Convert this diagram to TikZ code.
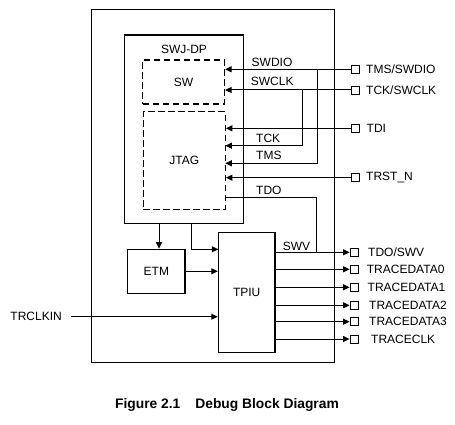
\documentclass[tikz,border=0pt]{standalone}
\usepackage{fontspec}
\setmainfont{Liberation Sans}
\usetikzlibrary{arrows.meta}
\begin{document}
\begin{tikzpicture}[x=1pt,y=-1pt,
  every node/.style={font=\fontsize{12}{14}\selectfont, inner sep=0pt},
  dblk/.style={draw, line width=1.2pt, dash pattern=on 6.5pt off 3.5pt},
  pin/.style={draw, line width=0.9pt, minimum width=8pt, minimum height=8pt},
  lbl/.style={anchor=west},
  wire/.style={line width=1pt},
  arr/.style={wire, -{Triangle[length=6.5pt,width=6pt]}}]
\useasboundingbox (0,0) rectangle (455,425);
% blocks
\node[draw, line width=1pt, minimum width=243pt, minimum height=353.5pt] (outer) at (212.5,185.8) {};
\node[draw, line width=1.4pt, minimum width=119pt, minimum height=188.3pt] (swj) at (183.8,129.2) {};
\node (swjlbl) at (184,49) {SWJ-DP};
\node[dblk, minimum width=81.8pt, minimum height=44pt] (sw) at (183.6,82) {SW};
\node[dblk, minimum width=82pt, minimum height=97.6pt] (jtag) at (184.3,160.5) {JTAG};
\node[draw, line width=1.2pt, minimum width=57.3pt, minimum height=44pt] (etm) at (156.4,271.3) {ETM};
\node[draw, line width=1.2pt, minimum width=56.7pt, minimum height=120pt] (tpiu) at (246.7,292.3) {TPIU};
% input pins
\node[pin] (p1) at (355.5,69.3) {};
\node[pin] (p2) at (355.5,90) {};
\node[pin] (p3) at (355.5,128.3) {};
\node[pin] (p4) at (355.5,177.7) {};
\node[lbl] (l1) at (366,69.3) {TMS/SWDIO};
\node[lbl] (l2) at (366,90) {TCK/SWCLK};
\node[lbl] (l3) at (366.5,128.3) {TDI};
\node[lbl] (l4) at (366,177.7) {TRST\_N};
% output pins
\node[pin] (o1) at (354,252.3) {};
\node[pin] (o2) at (354,269.3) {};
\node[pin] (o3) at (354,287.3) {};
\node[pin] (o4) at (354,305.3) {};
\node[pin] (o5) at (354,321.7) {};
\node[pin] (o6) at (354,339) {};
\node[lbl] (m1) at (368,252.3) {TDO/SWV};
\node[lbl] (m2) at (366.7,269.3) {TRACEDATA0};
\node[lbl] (m3) at (367.5,287.3) {TRACEDATA1};
\node[lbl] (m4) at (369,305.3) {TRACEDATA2};
\node[lbl] (m5) at (369,321.7) {TRACEDATA3};
\node[lbl] (m6) at (371,339) {TRACECLK};
\node[anchor=east] (trclk) at (62,316.7) {TRCLKIN};
% signal labels
\node[lbl] at (251.5,62) {SWDIO};
\node[lbl] at (250.7,81.3) {SWCLK};
\node[lbl] at (256,138.3) {TCK};
\node[lbl] at (256,155.3) {TMS};
\node[lbl] at (256,190.5) {TDO};
\node[lbl] at (282.7,246.2) {SWV};
% coordinates
\coordinate (brA) at (317.3,69.3);
\coordinate (brB) at (302.3,90);
\coordinate (tck) at (225.3,145.7);
\coordinate (tms) at (225.3,163.3);
\coordinate (tdo) at (225.3,197.7);
\coordinate (brC) at (316.7,252.3);
\coordinate (s1) at (159,223.3);
\coordinate (s2) at (191.7,223.3);
\coordinate (t1) at (218.3,249.3);
% input wires
\draw[arr] (p1.west) -- (p1.west -| sw.east);
\draw[arr] (p2.west) -- (p2.west -| sw.east);
\draw[arr] (p3.west) -- (p3.west -| jtag.east);
\draw[arr] (p4.west) -- (p4.west -| jtag.east);
\draw[arr] (brB) |- (tck);
\draw[arr] (brA) |- (tms);
\draw[wire] (tdo) -| (brC);
% internal
\draw[arr] (s1) -- (s1 |- etm.north);
\draw[arr] (s2) |- (t1);
\draw[arr] (etm.east) -- (etm.east -| tpiu.west);
\draw[arr] ([xshift=8.7pt]trclk.east) -- (trclk.east -| tpiu.west);
% outputs
\foreach \o in {o1,o2,o3,o4,o5,o6}
  \draw[arr] (tpiu.east |- \o.west) -- (\o.west);
% caption
\node[anchor=west, font=\fontsize{13.8}{16}\selectfont\bfseries] (cap) at (115,405) {Figure 2.1\hspace{15pt}Debug Block Diagram};
\end{tikzpicture}
\end{document}
